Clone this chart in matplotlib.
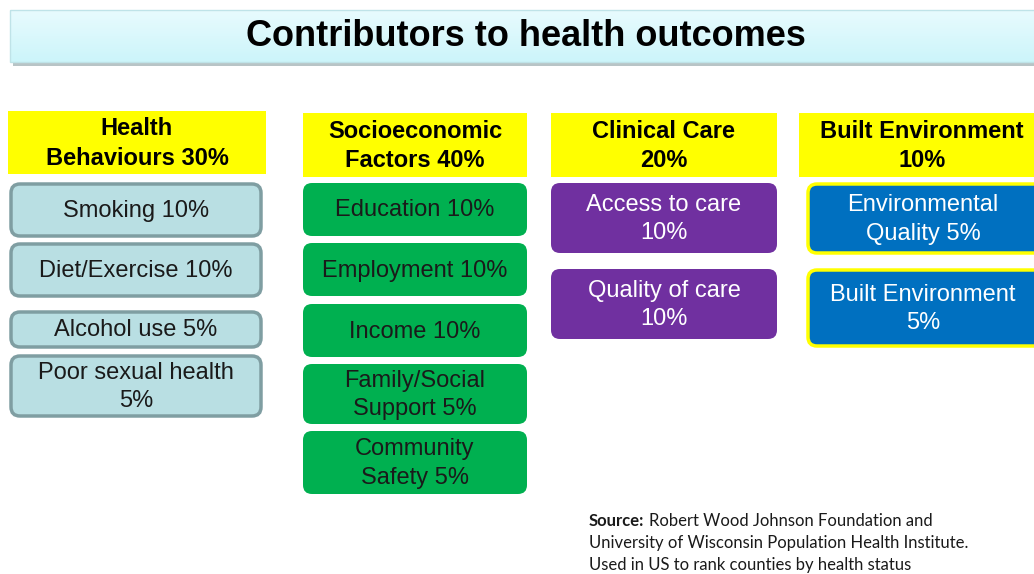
import numpy as np
import matplotlib.pyplot as plt
from matplotlib.colors import LinearSegmentedColormap
from matplotlib.patches import FancyBboxPatch, Rectangle

#----------------------
# data
#----------------------
title = "Contributors to health outcomes"

group_labels = ["Health\nBehaviours 30%", "Socioeconomic\nFactors 40%",
                "Clinical Care\n20%", "Built Environment\n10%"]

factor_labels = [
    ["Smoking 10%", "Diet/Exercise 10%", "Alcohol use 5%", "Poor sexual health\n5%"],
    ["Education 10%", "Employment 10%", "Income 10%", "Family/Social\nSupport 5%", "Community\nSafety 5%"],
    ["Access to care\n10%", "Quality of care\n10%"],
    ["Environmental\nQuality 5%", "Built Environment\n5%"],
]

source_lines = ["Robert Wood Johnson Foundation and",
                "University of Wisconsin Population Health Institute.",
                "Used in US to rank counties by health status"]

#----------------------
# layout (pixels) and styles
#----------------------
W, H = 1034, 574
header_x = [(8, 266), (303, 527), (551, 777), (799, 1040)]
header_y = [(111, 174), (113, 177), (113, 177), (113, 177)]
box_x = [(11, 261), (303, 527), (551, 777), (808, 1045)]
box_y = [
    [(184, 236), (244, 296), (312, 347), (356, 416)],
    [(183, 236), (243, 296), (304, 357), (364, 424), (431, 494)],
    [(183, 253), (269, 339)],
    [(184, 253), (270, 346)],
]
fill_col = ["#b9dfe3", "#00b050", "#7030a0", "#0070c0"]
edge_col = ["#7f9ea2", "#00b050", "#7030a0", "#ffff00"]
edge_w = [2.5, 0, 0, 2.5]
text_col = ["#1a1a1a", "#1a1a1a", "white", "white"]
fs = 17
ls = 1.36

fig = plt.figure(figsize=(W / 100, H / 100), dpi=100)
ax = fig.add_axes([0, 0, 1, 1])
ax.set_xlim(0, W)
ax.set_ylim(H, 0)
ax.axis("off")

# title banner with shadow and light gradient
ax.add_patch(Rectangle((13, 14), 1030, 52, facecolor="#b8c4c6", edgecolor="none", zorder=1))
grad = np.linspace(0, 1, 50).reshape(-1, 1)
ax.imshow(grad, extent=(10, 1040, 62, 10),
          cmap=LinearSegmentedColormap.from_list("banner", ["#e8fbfe", "#ccf5fa"]),
          aspect="auto", zorder=2)
ax.add_patch(Rectangle((10, 10), 1030, 52, facecolor="none", edgecolor="#bfe3e8", lw=1, zorder=3))
ax.text(526, 37, title, ha="center", va="center", fontsize=26, fontweight="bold",
        family="Liberation Sans", color="black", zorder=4)

for i in range(len(group_labels)):
    x0, x1 = header_x[i]
    y0, y1 = header_y[i]
    ax.add_patch(Rectangle((x0, y0), x1 - x0, y1 - y0, facecolor="#ffff00", edgecolor="none", zorder=2))
    cx = (x0 + x1) / 2
    if i == 3:
        cx = 922
    ax.text(cx, (y0 + y1) / 2 + 1, group_labels[i], ha="center", va="center", fontsize=fs,
            fontweight="bold", family="Liberation Sans", linespacing=ls, zorder=3)

    bx0, bx1 = box_x[i]
    for j, lab in enumerate(factor_labels[i]):
        y0, y1 = box_y[i][j]
        ax.add_patch(FancyBboxPatch((bx0, y0), bx1 - bx0, y1 - y0,
                                    boxstyle="round,pad=0,rounding_size=9",
                                    facecolor=fill_col[i], edgecolor=edge_col[i],
                                    lw=edge_w[i], zorder=2))
        tx = (bx0 + bx1) / 2
        if i == 3:
            tx = 923
        ax.text(tx, (y0 + y1) / 2 + 1, lab, ha="center", va="center", fontsize=fs,
                family="Liberation Sans", color=text_col[i], linespacing=ls, zorder=3)

# source note
src_fs = 12
lab = ax.text(589, 521, "Source:", ha="left", va="center", fontsize=src_fs, fontweight="bold",
              family="Lato", color="#1a1a1a")
fig.canvas.draw()
bb = lab.get_window_extent()
x_end = ax.transData.inverted().transform((bb.x1, bb.y0))[0]
ax.text(x_end + 5, 521, source_lines[0], ha="left", va="center", fontsize=src_fs,
        family="Lato", color="#1a1a1a")
for k in range(1, 3):
    ax.text(589, 521 + 22 * k, source_lines[k], ha="left", va="center", fontsize=src_fs,
            family="Lato", color="#1a1a1a")

fig.savefig("out.png", dpi=100)
